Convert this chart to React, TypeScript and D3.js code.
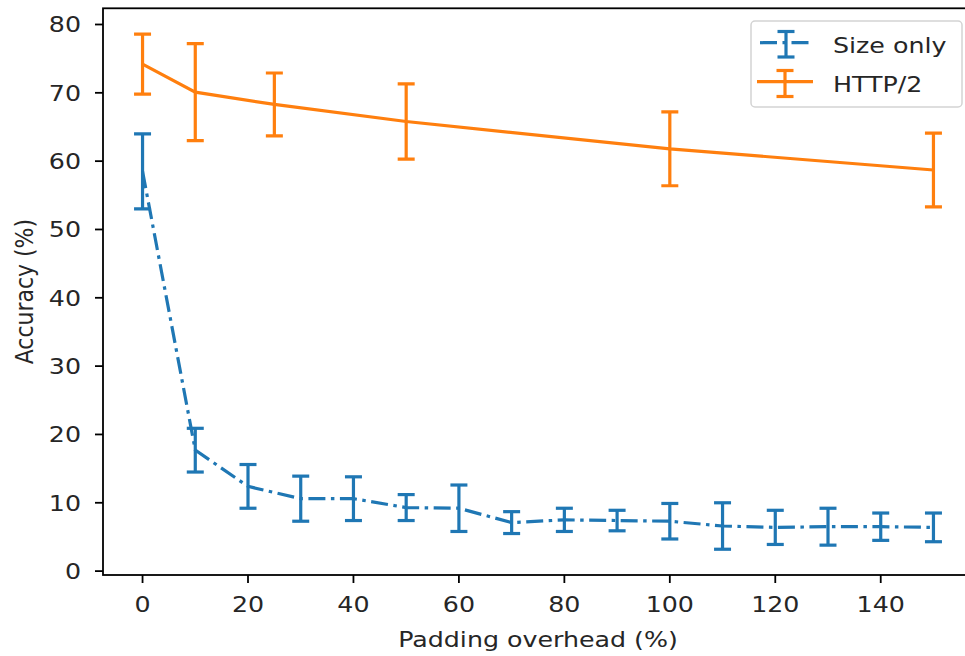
import React from "react";
import * as d3 from "d3";

const sizeX = [0, 10, 20, 30, 40, 50, 60, 70, 80, 90, 100, 110, 120, 130, 140, 150];
const sizeY = [58.5, 17.7, 12.4, 10.6, 10.6, 9.3, 9.2, 7.1, 7.5, 7.4, 7.3, 6.6, 6.4, 6.5, 6.5, 6.4];
const sizeErr = [5.5, 3.2, 3.2, 3.3, 3.2, 1.9, 3.4, 1.6, 1.7, 1.5, 2.6, 3.4, 2.5, 2.7, 2.0, 2.1];

const httpX = [0, 10, 25, 50, 100, 150];
const httpY = [74.2, 70.1, 68.3, 65.8, 61.8, 58.7];
const httpErr = [4.4, 7.1, 4.6, 5.5, 5.4, 5.4];

const xTicks = [0, 20, 40, 60, 80, 100, 120, 140];
const yTicks = [0, 10, 20, 30, 40, 50, 60, 70, 80];

const seriesNames = ["Size only", "HTTP/2"];
const xLabel = "Padding overhead (%)";
const yLabel = "Accuracy (%)";

const BLUE = "#1f77b4";
const ORANGE = "#ff7f0e";
const FONT = "DejaVu Sans, sans-serif";
const FS = 22;
const SX = 1.15;
const TXT = "#262626";

const W = 965, H = 656;
const left = 103, right = 973, top = 8.3, bottom = 575;

function Txt({ x, y, anchor = "start", rotate = 0, children }: any) {
  return (
    <g transform={`translate(${x},${y}) scale(${SX},1) rotate(${rotate})`}>
      <text textAnchor={anchor} fontFamily={FONT} fontSize={FS} fill={TXT}>
        {children}
      </text>
    </g>
  );
}

export default function App() {
  const allX = [...sizeX, ...httpX];
  const xmin = d3.min(allX)!, xmax = d3.max(allX)!;
  const xr = xmax - xmin;
  const x = d3.scaleLinear().domain([xmin - 0.05 * xr, xmax + 0.05 * xr]).range([left, right]);

  const lows = [...sizeY.map((v, i) => v - sizeErr[i]), ...httpY.map((v, i) => v - httpErr[i])];
  const highs = [...sizeY.map((v, i) => v + sizeErr[i]), ...httpY.map((v, i) => v + httpErr[i])];
  const ymin = d3.min(lows)!, ymax = d3.max(highs)!;
  const yr = ymax - ymin;
  const y = d3.scaleLinear().domain([ymin - 0.05 * yr, ymax + 0.05 * yr]).range([bottom, top]);

  const line = d3.line<number>();
  const sizePath = line(sizeX.map((v, i) => [x(v), y(sizeY[i])]) as any)!;
  const httpPath = line(httpX.map((v, i) => [x(v), y(httpY[i])]) as any)!;

  const cap = 8.5;
  const LW = 3.2;
  const dash = "17,5.5,3.5,5.5";

  const errBars = (xs: number[], ys: number[], es: number[], color: string) =>
    xs.map((v, i) => {
      const cx = x(v), y1 = y(ys[i] + es[i]), y2 = y(ys[i] - es[i]);
      return (
        <g key={i} stroke={color} strokeWidth={LW}>
          <line x1={cx} x2={cx} y1={y1} y2={y2} />
          <line x1={cx - cap} x2={cx + cap} y1={y1} y2={y1} />
          <line x1={cx - cap} x2={cx + cap} y1={y2} y2={y2} />
        </g>
      );
    });

  return (
    <svg width={W} height={H} style={{ position: "absolute", left: 0, top: 0, background: "#fff" }}>
      <rect x={0} y={0} width={W} height={H} fill="#fff" />
      <defs>
        <clipPath id="plot">
          <rect x={left} y={top} width={right - left} height={bottom - top} />
        </clipPath>
      </defs>
      <g clipPath="url(#plot)" fill="none" strokeLinecap="butt">
        {errBars(sizeX, sizeY, sizeErr, BLUE)}
        <path d={sizePath} stroke={BLUE} strokeWidth={LW} strokeDasharray={dash} />
        {errBars(httpX, httpY, httpErr, ORANGE)}
        <path d={httpPath} stroke={ORANGE} strokeWidth={LW} />
      </g>
      {/* spines */}
      <rect x={left} y={top} width={right - left} height={bottom - top} fill="none" stroke="#000" strokeWidth={1.8} />
      {/* ticks */}
      {xTicks.map((t) => (
        <g key={"x" + t}>
          <line x1={x(t)} x2={x(t)} y1={bottom} y2={bottom + 8} stroke="#000" strokeWidth={1.8} />
          <Txt x={x(t)} y={612} anchor="middle">{t}</Txt>
        </g>
      ))}
      {yTicks.map((t) => (
        <g key={"y" + t}>
          <line x1={left - 8} x2={left} y1={y(t)} y2={y(t)} stroke="#000" strokeWidth={1.8} />
          <Txt x={81} y={y(t) + 8} anchor="end">{t}</Txt>
        </g>
      ))}
      <Txt x={(left + right) / 2} y={647} anchor="middle">{xLabel}</Txt>
      <Txt x={33} y={(top + bottom) / 2} anchor="middle" rotate={-90}>{yLabel}</Txt>
      {/* legend */}
      <rect x={751} y={21} width={211} height={86} rx={4} fill="#fff" fillOpacity={0.8} stroke="#d3d3d3" strokeWidth={1.5} />
      <g fill="none">
        <line x1={760} x2={812} y1={42.7} y2={42.7} stroke={BLUE} strokeWidth={LW} strokeDasharray={dash} />
        <g stroke={BLUE} strokeWidth={LW}>
          <line x1={786} x2={786} y1={31.5} y2={57} />
          <line x1={786 - cap} x2={786 + cap} y1={31.5} y2={31.5} />
          <line x1={786 - cap} x2={786 + cap} y1={57} y2={57} />
        </g>
        <line x1={757} x2={813} y1={81.7} y2={81.7} stroke={ORANGE} strokeWidth={LW} />
        <g stroke={ORANGE} strokeWidth={LW}>
          <line x1={785} x2={785} y1={70.5} y2={96.5} />
          <line x1={785 - cap} x2={785 + cap} y1={70.5} y2={70.5} />
          <line x1={785 - cap} x2={785 + cap} y1={96.5} y2={96.5} />
        </g>
      </g>
      <Txt x={833} y={53.3}>{seriesNames[0]}</Txt>
      <Txt x={833} y={91.7}>{seriesNames[1]}</Txt>
    </svg>
  );
}
